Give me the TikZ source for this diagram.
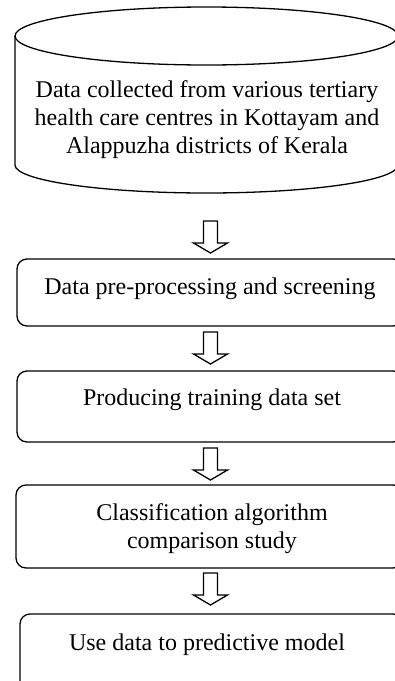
\documentclass[tikz,border=0pt]{standalone}
\usepackage{fontspec}
\setmainfont{Liberation Serif}
\usetikzlibrary{calc}
\tikzset{
  outline/.style={draw=black, line width=1.3pt},
  stepbox/.style={outline, rounded corners=10pt},
  lbl/.style={font=\fontsize{24}{28}\selectfont, inner sep=0pt, align=center},
  blockarrow/.pic={
    \draw[outline, line join=miter] (-7,0) -- (7,0) -- (7,22) -- (17,22) -- (0,32) -- (-17,22) -- (-7,22) -- cycle;
  }
}
\begin{document}
\begin{tikzpicture}[x=1pt, y=-1pt]
\useasboundingbox (0,0) rectangle (395,681);
\clip (0,0) rectangle (395,681);
% cylinder
\coordinate (cyltop) at (206.5,36);
\coordinate (cylbot) at (206.5,165);
\draw[outline] (15,36) -- (15,165) arc[start angle=180, end angle=0, x radius=191.5, y radius=28] -- (398,36);
\draw[outline] (cyltop) ellipse[x radius=191.5, y radius=29];
\node[lbl, anchor=base] (t0) at (207,153) {Data collected from various tertiary\\health care centres in Kottayam and\\Alappuzha districts of Kerala};
% boxes
\draw[stepbox] (17,259) rectangle (403,326);
\node[lbl, anchor=base] (t1) at (210,294) {Data pre-processing and screening};
\draw[stepbox] (17,371) rectangle (403,442);
\node[lbl, anchor=base] (t2) at (212,405) {Producing training data set};
\draw[stepbox] (16,485) rectangle (403,568);
\node[lbl, anchor=base] (t3) at (212,548) {Classification algorithm\\comparison study};
\draw[stepbox] (20,614) rectangle (403,700);
\node[lbl, anchor=base] (t4) at (207,650) {Use data to predictive model};
% arrows
\pic at (210.5,221) {blockarrow};
\pic at (210.5,332) {blockarrow};
\pic at (210.5,448) {blockarrow};
\pic at (210.5,573) {blockarrow};
\end{tikzpicture}
\end{document}
